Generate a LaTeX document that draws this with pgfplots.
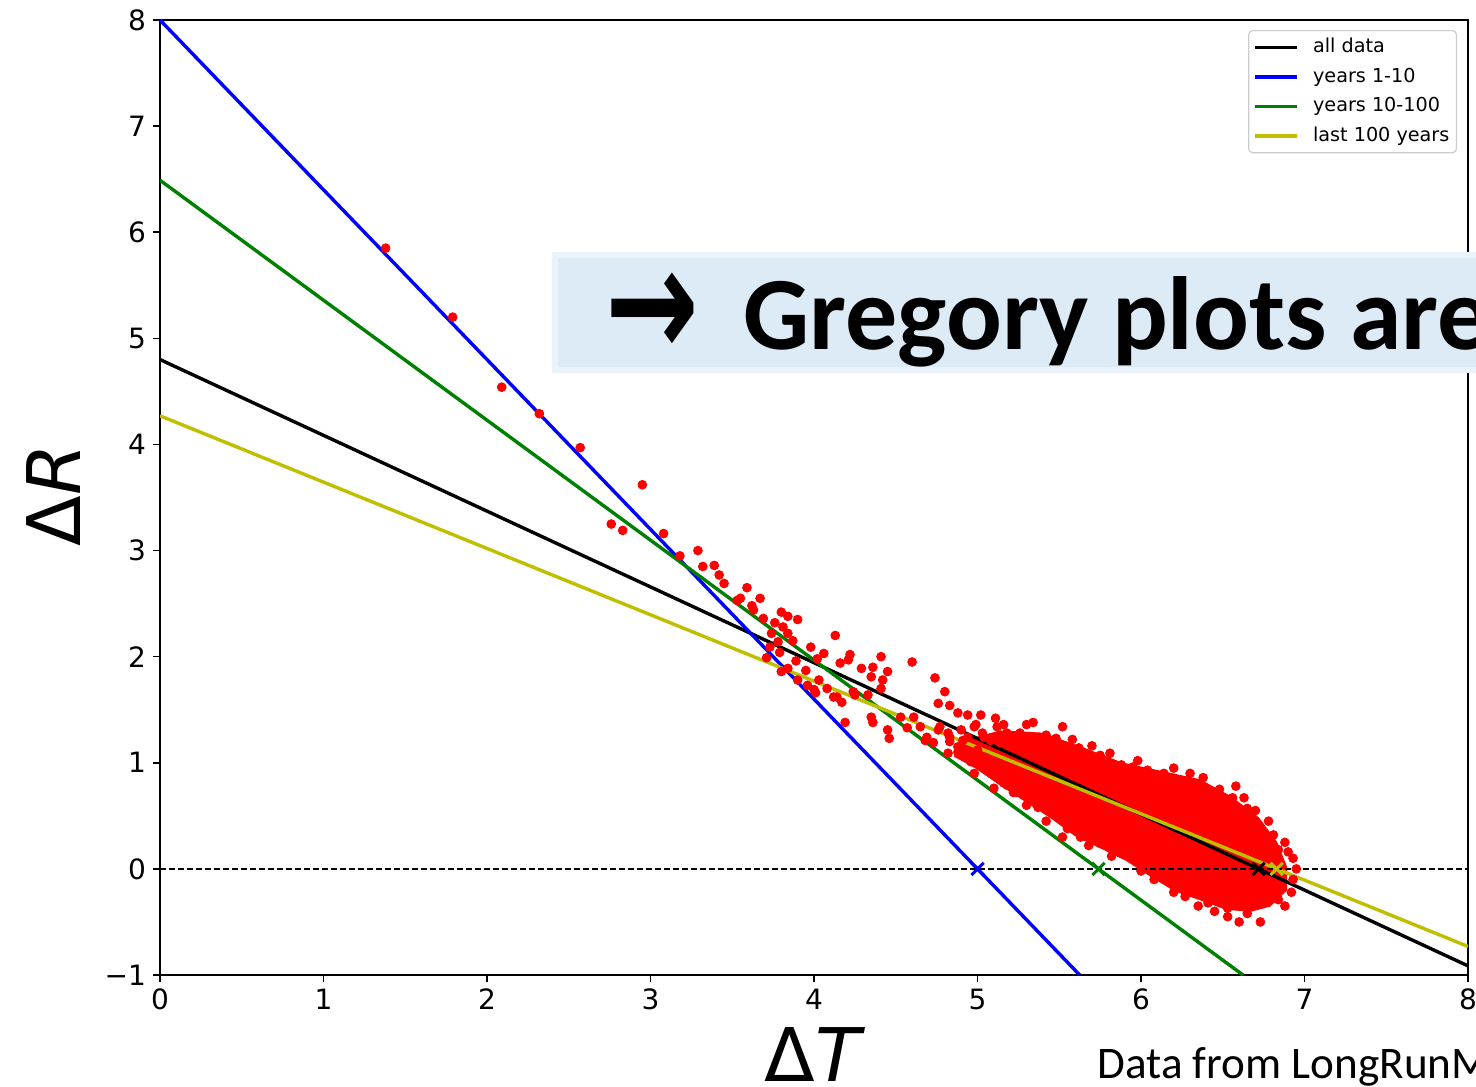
\documentclass[border=0pt]{standalone}
\usepackage{graphicx}
\usepackage{pgfplots}
\pgfplotsset{compat=1.18}
\usepackage{fontspec}
\setmainfont{DejaVu Sans}
\newfontfamily\carlito{Carlito}
\definecolor{mplgreen}{rgb}{0,0.5,0}
\definecolor{mplyellow}{rgb}{0.75,0.75,0}
\definecolor{boxblue}{HTML}{DDEBF7}
\definecolor{boxedge}{HTML}{EAF2FA}
\definecolor{legframe}{HTML}{CCCCCC}

\pgfplotstableread{
x y
1.38 5.85
1.79 5.20
2.09 4.54
2.32 4.29
2.57 3.97
2.95 3.62
2.76 3.25
2.83 3.19
3.08 3.16
3.18 2.95
3.29 3.00
3.32 2.85
3.39 2.86
3.42 2.77
3.45 2.69
3.59 2.65
3.55 2.55
3.53 2.53
3.67 2.55
3.62 2.48
3.63 2.44
3.69 2.36
3.80 2.42
3.84 2.38
3.90 2.35
3.76 2.32
3.81 2.28
3.84 2.22
3.74 2.22
3.87 2.15
3.78 2.14
4.13 2.20
3.98 2.09
4.02 1.98
4.06 2.03
3.73 2.09
3.79 2.04
3.89 1.96
3.84 1.89
3.95 1.87
3.71 1.99
3.80 1.86
3.90 1.78
3.96 1.73
4.03 1.78
4.16 1.94
4.22 2.02
4.41 2.00
4.29 1.89
4.36 1.90
4.45 1.86
4.60 1.95
4.35 1.81
4.42 1.78
4.08 1.70
4.01 1.66
4.14 1.62
4.17 1.57
4.25 1.64
4.33 1.64
4.41 1.70
4.74 1.80
4.80 1.67
4.76 1.56
4.83 1.54
4.88 1.47
4.94 1.45
4.19 1.38
4.35 1.43
4.36 1.38
4.45 1.31
4.46 1.23
4.57 1.33
4.61 1.43
4.65 1.34
4.69 1.24
4.77 1.34
4.83 1.24
4.90 1.31
4.98 1.34
5.04 1.24
5.11 1.42
5.12 1.34
4.21 1.97
4.00 1.69
4.12 1.62
4.24 1.67
4.99 1.36
5.02 1.45
5.16 1.36
4.53 1.43
4.68 1.21
4.73 1.19
4.76 1.31
4.82 1.28
4.83 1.20
4.88 1.15
4.91 1.21
4.96 1.01
5.00 1.12
5.05 1.05
5.06 0.96
5.10 0.90
5.14 0.84
5.18 0.79
5.22 0.72
4.88 1.10
4.82 1.09
4.94 1.24
5.03 1.28
5.08 1.21
5.14 1.19
5.18 1.28
5.22 1.21
5.26 1.28
5.34 1.38
5.52 1.34
5.42 1.26
5.48 1.23
5.62 1.14
5.75 1.07
5.81 1.09
5.88 0.98
5.95 0.96
6.04 0.93
6.14 0.90
6.26 0.82
6.38 0.86
6.44 0.65
6.56 0.67
6.63 0.67
6.65 0.57
6.73 0.39
6.81 0.32
6.84 0.18
6.90 0.16
6.93 0.10
6.92 -0.22
6.84 -0.29
6.73 -0.50
6.65 -0.42
6.53 -0.37
6.53 -0.45
6.41 -0.32
6.27 -0.26
6.18 -0.10
6.08 -0.10
5.98 0.06
5.88 0.15
5.75 0.24
5.63 0.30
5.52 0.30
5.49 0.53
5.37 0.58
5.24 0.72
5.16 0.81
5.30 1.36
5.58 1.22
5.70 1.16
5.98 1.02
6.20 0.95
6.30 0.90
6.48 0.75
6.58 0.78
6.70 0.55
6.78 0.45
6.88 0.25
6.95 0.00
6.93 -0.10
6.88 -0.35
6.60 -0.50
6.45 -0.40
6.35 -0.35
6.20 -0.22
6.00 -0.02
5.82 0.12
5.68 0.22
5.55 0.38
5.42 0.45
5.30 0.60
5.10 0.76
4.98 0.90
}\scatterdata

\pgfplotstableread{
x y
4.90 1.20
5.14 1.30
5.39 1.28
5.63 1.15
5.88 1.00
6.12 0.92
6.36 0.84
6.55 0.68
6.72 0.48
6.83 0.25
6.89 0.02
6.89 -0.20
6.79 -0.35
6.67 -0.40
6.52 -0.38
6.36 -0.29
6.21 -0.21
6.06 -0.07
5.91 0.08
5.75 0.20
5.60 0.31
5.45 0.48
5.29 0.64
5.14 0.79
4.99 0.95
4.86 1.06
4.90 1.20
}\coredata

\begin{document}
\begin{tikzpicture}
\useasboundingbox (0,0) rectangle (738pt,543pt);
\begin{axis}[
  at={(80pt,55.5pt)}, anchor=south west,
  scale only axis, width=654pt, height=477.5pt,
  xmin=0, xmax=8, ymin=-1, ymax=8,
  xtick={0,1,2,3,4,5,6,7,8},
  xticklabels={0,1,2,3,4,5,6,7,8},
  ytick={-1,0,1,2,3,4,5,6,7,8},
  yticklabels={−1,0,1,2,3,4,5,6,7,8},
  tick pos=left, tick align=outside,
  major tick length=3.5pt,
  every tick/.style={black, line width=0.8pt},
  axis line style={line width=0.8pt},
  tick label style={font=\fontsize{14}{16}\selectfont},
  legend cell align=left,
  legend image code/.code={\draw[#1] (0pt,0pt) -- (21pt,0pt);},
  legend style={at={(0.9916,0.9895)}, anchor=north east,
    draw=legframe, line width=0.6pt, rounded corners=2pt, fill=white,
    font=\fontsize{9.6}{11}\selectfont,
    inner xsep=2.5pt, inner ysep=3.8pt, row sep=5.55pt, column sep=6pt,
    nodes={inner xsep=1pt, inner ysep=0pt, text height=7.2pt, text depth=2pt, anchor=west}},
]
% scatter cloud
\addplot[fill=red, draw=red, line width=0.5pt, forget plot] table {\coredata};
\addplot[only marks, mark=*, mark size=2.2pt, color=red, forget plot] table {\scatterdata};
% fitted lines
\addplot[black, line width=1.7pt] coordinates {(0,4.80) (8,-0.914)};
\addlegendentry{all data}
\addplot[blue, line width=1.7pt] coordinates {(0,8.0) (5.625,-1)};
\addlegendentry{years 1-10}
\addplot[mplgreen, line width=1.7pt] coordinates {(0,6.49) (6.624,-1)};
\addlegendentry{years 10-100}
\addplot[mplyellow, line width=1.7pt] coordinates {(0,4.27) (8,-0.731)};
\addlegendentry{last 100 years}
% zero line
\addplot[black, line width=0.7pt, dash pattern=on 3pt off 1.5pt, forget plot] coordinates {(0,0) (8,0)};
% equilibrium estimates
\addplot[only marks, mark=x, mark size=4.3pt, blue, line width=1.5pt, forget plot] coordinates {(5.00,0)};
\addplot[only marks, mark=x, mark size=4.3pt, mplgreen, line width=1.5pt, forget plot] coordinates {(5.74,0)};
\addplot[only marks, mark=x, mark size=4.3pt, black, line width=1.5pt, forget plot] coordinates {(6.72,0)};
\addplot[only marks, mark=x, mark size=4.3pt, mplyellow, line width=1.5pt, forget plot] coordinates {(6.83,0)};
\end{axis}
% axis labels
\node[rotate=90, inner sep=0] at (27pt,295.5pt) {\fontsize{37}{40}\selectfont Δ\textit{R}};
\node[inner sep=0, anchor=base] at (407.5pt,2.5pt) {\fontsize{37}{40}\selectfont Δ\textit{T}};
% slide overlay
\fill[boxblue, draw=boxedge, line width=3pt] (277.5pt,358pt) rectangle (760pt,415.5pt);
\node[inner sep=0] at (326pt,385.5pt) {\fontsize{56}{60}\selectfont\bfseries\scalebox{1}[1.4]{→}};
\node[inner sep=0, anchor=base west] at (371.5pt,368pt) {\carlito\bfseries\fontsize{52}{56}\selectfont Gregory plots are};
\node[inner sep=0, anchor=base west] at (548.5pt,4pt) {\carlito\fontsize{22.6}{26}\selectfont Data from LongRunMIP};
\end{tikzpicture}
\end{document}
